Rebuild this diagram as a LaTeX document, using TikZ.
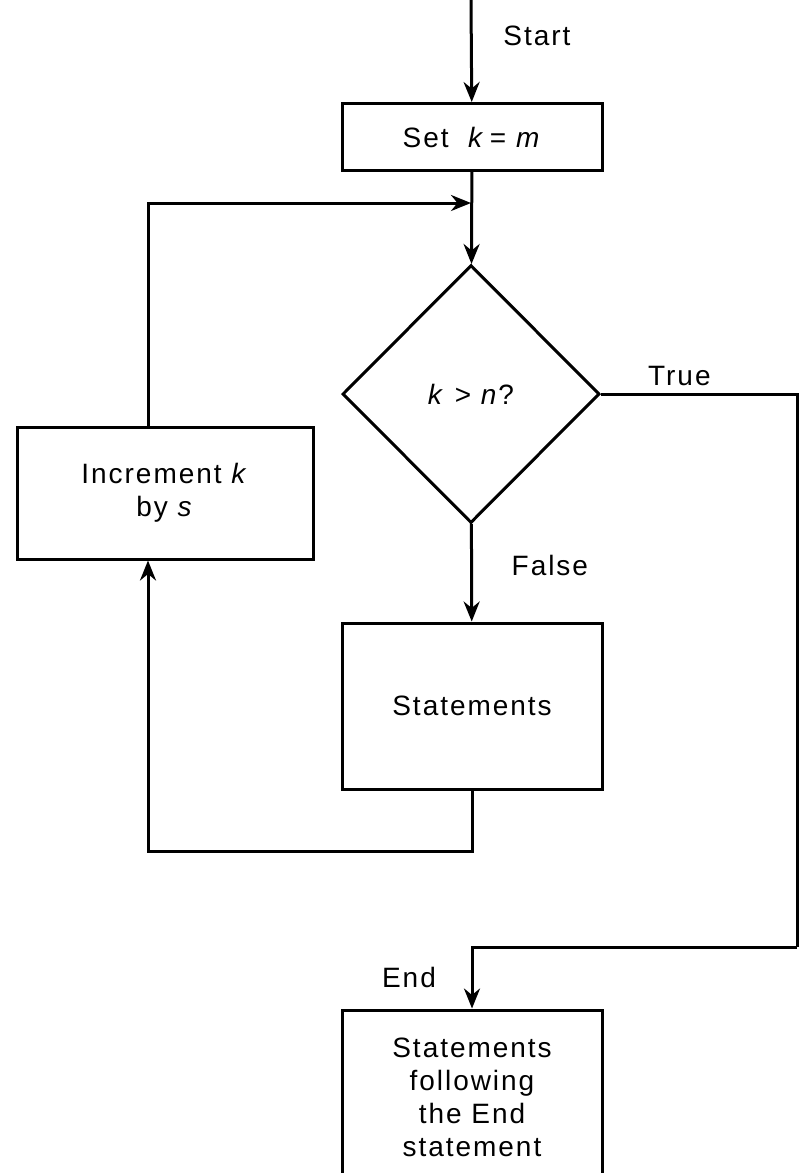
\documentclass[tikz,border=0pt]{standalone}
\usepackage{fontspec}
\setmainfont{Liberation Sans}[LetterSpace=7]
\usepackage{tikz}
\usetikzlibrary{arrows.meta, positioning, shapes.geometric}

\begin{document}
\begin{tikzpicture}[x=0.5pt, y=-0.5pt, >={Stealth[length=10pt, width=8pt]},
        font=\fontsize{14}{16.5}\selectfont, line width=1.5pt,
        box/.style={rectangle, draw, align=center, inner sep=0pt},
        test/.style={diamond, draw, aspect=1, inner sep=0pt, minimum width=128.5pt, minimum height=129pt},
        flow/.style={->, line width=1.5pt}
        ]
        \useasboundingbox (0,0) rectangle (801,1173);
        % Nodes
        \coordinate (top) at (471,0);
        \node [box, minimum width=130pt, minimum height=33.5pt] (set) at (472,137) {Set \ \textit{k}\,= \textit{m}};
        \coordinate (join) at (471,203);
        \node [test] (chk) at (471,394) {\textit{k} > \textit{n}?};
        \node [box, minimum width=148pt, minimum height=66pt] (inc) at (165,493) {Increment \textit{k}\\by \textit{s}};
        \node [box, minimum width=130pt, minimum height=83pt] (body) at (472,706) {Statements};
        \coordinate (rgt) at (797,947);
        \node [box, minimum width=130pt, minimum height=87pt] (fin) at (472,1097) {Statements\\following\\the End\\statement};

        % Edges
        \draw[flow] (top) -- node[pos=0.35, right=12pt] {Start} (set);
        \draw[flow] (set) -- (chk);
        \draw[flow] ([xshift=-8.5pt]inc.north) |- (join);
        \draw[flow] (chk) -- node[pos=0.42, right=16pt] {False} (body);
        \draw[flow] (body.south) -- ++(0,61) -| ([xshift=-8.5pt]inc.south);

        % True branch
        \draw[line width=1.5pt] (chk.east) -| node[pos=0.2, above] {True} (rgt);
        \draw[flow] (rgt) -| node[pos=0.75, left=14pt] {End} (fin.north);
    \end{tikzpicture}
\end{document}
